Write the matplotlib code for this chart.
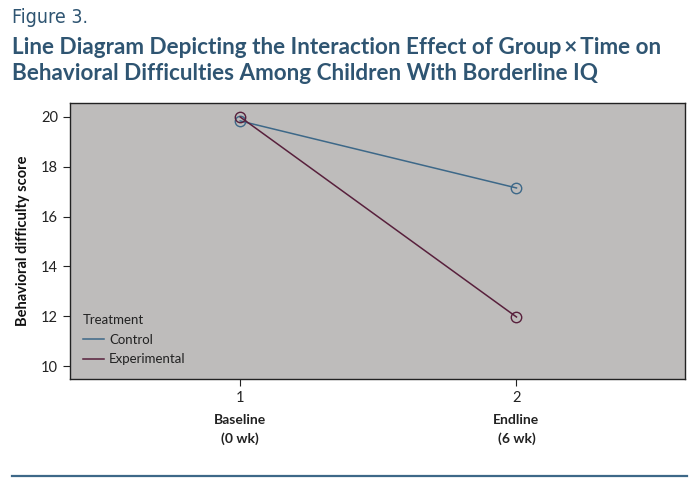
import numpy as np
import matplotlib.pyplot as plt
from matplotlib.lines import Line2D

# Data
time_points = [1, 2]
time_names = ['Baseline\n(0 wk)', 'Endline\n(6 wk)']
control = [19.84, 17.15]
experimental = [20.0, 11.97]
y_ticks = [10, 12, 14, 16, 18, 20]

blue = '#3d6888'
maroon = '#58203c'
title_col = '#2f5572'

plt.rcParams['font.family'] = ['Lato', 'DejaVu Sans']

fig = plt.figure(figsize=(6.99, 4.90), dpi=100)
ax = fig.add_axes([0.1001, 0.2265, 0.8799, 0.5633])
ax.set_facecolor('#bebcbb')

ax.plot(time_points, control, color=blue, lw=1.1, marker='o', ms=7.5,
        mfc='none', mec=blue, mew=1.0)
ax.plot(time_points, experimental, color=maroon, lw=1.1, marker='o', ms=7.5,
        mfc='none', mec=maroon, mew=1.0)

ax.set_xlim(0.384, 2.61)
ax.set_ylim(9.48, 20.56)
ax.set_xticks(time_points)
ax.set_xticklabels([str(t) for t in time_points])
ax.set_yticks(y_ticks)
ax.tick_params(labelsize=10.5, colors='#222222', length=5, width=0.8)
for s in ax.spines.values():
    s.set_color('#222222')
    s.set_linewidth(1.0)

for t, name in zip(time_points, time_names):
    ax.text(t, -0.125, name, transform=ax.get_xaxis_transform(), ha='center',
            va='top', fontsize=10, fontweight='bold', color='#222222',
            linespacing=1.6)

ax.set_ylabel('Behavioral difficulty score', fontsize=10.5, fontweight='bold',
              color='#111111', labelpad=8)

handles = [Line2D([], [], color=blue, lw=1.1), Line2D([], [], color=maroon, lw=1.1)]
leg = ax.legend(handles, ['Control', 'Experimental'], title='Treatment',
                loc='lower left', bbox_to_anchor=(0.012, 0.03), frameon=False,
                fontsize=9.5, title_fontsize=9.5, handlelength=1.6,
                handletextpad=0.4, labelspacing=0.6, borderaxespad=0.0,
                alignment='left')
for txt in leg.get_texts():
    txt.set_color('#222222')
leg.get_title().set_color('#222222')

fig.text(0.017, 0.965, 'Figure 3.', fontsize=14, color=title_col,
         family='DejaVu Sans', fontstretch='condensed', va='center')
fig.text(0.017, 0.904, 'Line Diagram Depicting the Interaction Effect of Group\u2009\u00d7\u2009Time on',
         fontsize=16.2, fontweight='bold', color=title_col, va='center')
fig.text(0.017, 0.851, 'Behavioral Difficulties Among Children With Borderline IQ',
         fontsize=16.2, fontweight='bold', color=title_col, va='center')

fig.add_artist(Line2D([0.017, 0.983], [1 - 476 / 490] * 2, color=blue, lw=1.6,
                      transform=fig.transFigure))

fig.savefig('out.png', dpi=100)
